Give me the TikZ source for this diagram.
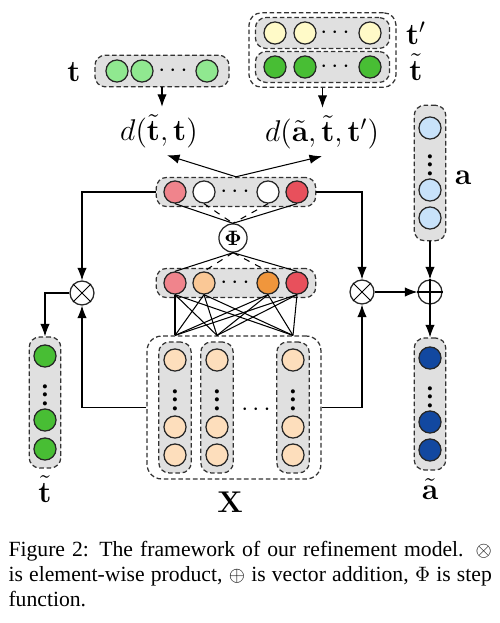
\documentclass[tikz,border=0pt]{standalone}
\usepackage[no-math]{fontspec}
\setmainfont{Liberation Serif}
\usepackage{amsmath}
\usepackage{tikz}
\usetikzlibrary{positioning, fit, calc, arrows.meta, backgrounds}
\definecolor{tlight}{RGB}{144,232,144}
\definecolor{tprime}{RGB}{255,250,200}
\definecolor{tgreen}{RGB}{72,190,52}
\definecolor{alight}{RGB}{200,226,250}
\definecolor{adark}{RGB}{18,72,160}
\definecolor{upink}{RGB}{240,132,140}
\definecolor{ured}{RGB}{232,80,92}
\definecolor{lorange}{RGB}{250,200,150}
\definecolor{dorange}{RGB}{240,150,60}
\definecolor{peach}{RGB}{253,222,188}

\begin{document}
\begin{tikzpicture}[x=0.48pt, y=-0.48pt, line width=0.5pt, >={Latex[length=6pt,width=4.5pt]}]
	\tikzstyle{unit}=[circle, draw=black!85, line width=0.6pt, minimum size=10.6pt, inner sep=0pt]
	\tikzstyle{grp}=[draw=black!80, line width=0.6pt, dash pattern=on 2.2pt off 1.3pt, rounded corners=5pt, fill=black!12, inner sep=0pt]
	\tikzstyle{outergrp}=[grp, fill=none, rounded corners=7pt]
	\tikzstyle{op}=[circle, draw=black!85, line width=0.6pt, fill=white, minimum size=11.5pt, inner sep=0pt]
	\tikzstyle{lbl}=[font=\Large]
	\tikzstyle{dots}=[inner sep=0pt, font=\large\bfseries]
	\useasboundingbox (0,0) rectangle (500,623);

	% t on top
	\foreach \i/\x in {1/117,2/142,3/207} \node[unit, fill=tlight] (t\i) at (\x,71) {};
	\node[dots] (tdots) at (175,71) {$\cdots$};
	\node[lbl] (tlab) at (74,72) {$\mathbf{t}$};

	% t' and t~ on top
	\foreach \i/\x in {1/275,2/305,3/370} {
		\node[unit, fill=tprime] (tp\i) at (\x,33) {};
		\node[unit, fill=tgreen] (tt\i) at (\x,67) {};
	}
	\node[dots] (tpdots) at (337,33) {$\cdots$};
	\node[dots] (ttdots) at (337,67) {$\cdots$};
	\node[lbl] (tplab) at (416,33) {$\mathbf{t}'$};
	\node[lbl] (ttlab) at (416,67) {$\tilde{\mathbf{t}}$};

	% distances
	\node[lbl] (dl) at (159,131) {$d(\tilde{\mathbf{t}},\mathbf{t})$};
	\node[lbl] (dr) at (322,132) {$d(\tilde{\mathbf{a}},\tilde{\mathbf{t}},\mathbf{t}')$};

	% a
	\foreach \i/\y in {1/128,2/190,3/218} \node[unit, fill=alight] (a\i) at (430,\y) {};
	\node[dots] (adots) at (430,159) {$\vdots$};
	\node[lbl] (alab) at (463,178) {$\mathbf{a}$};

	% layers and step function
	\node[unit, fill=upink] (u1) at (175,192) {};
	\node[unit, fill=white] (u2) at (204,192) {};
	\node[dots] (udots) at (237,192) {$\cdots$};
	\node[unit, fill=white] (u3) at (268,192) {};
	\node[unit, fill=ured] (u4) at (297,192) {};
	\node[op, minimum size=13.5pt] (phi) at (233,238) {$\mathbf{\Phi}$};
	\node[unit, fill=upink] (l1) at (175,283) {};
	\node[unit, fill=lorange] (l2) at (204,283) {};
	\node[dots] (ldots) at (237,283) {$\cdots$};
	\node[unit, fill=dorange] (l3) at (268,283) {};
	\node[unit, fill=ured] (l4) at (297,283) {};

	% X
	\foreach \col/\x in {1/175,2/217,3/293} {
		\node[unit, fill=peach] (x\col1) at (\x,360) {};
		\node[dots] (x\col dots) at (\x,394) {$\vdots$};
		\node[unit, fill=peach] (x\col2) at (\x,427) {};
		\node[unit, fill=peach] (x\col3) at (\x,455) {};
	}
	\node[dots] (xdots) at (258,410) {$\cdots$};
	\node[lbl] (xlab) at (230,502) {$\mathbf{X}$};

	% t~ and a~ at the bottom
	\foreach \i/\y in {1/356,2/420,3/449} \node[unit, fill=tgreen] (tl\i) at (45,\y) {};
	\node[dots] (tldots) at (45,389) {$\vdots$};
	\node[lbl] (tllab) at (45,489) {$\tilde{\mathbf{t}}$};
	\foreach \i/\y in {1/358,2/422,3/450} \node[unit, fill=adark] (at\i) at (430,\y) {};
	\node[dots] (atdots) at (430,391) {$\vdots$};
	\node[lbl] (atlab) at (430,489) {$\tilde{\mathbf{a}}$};

	% operators
	\node[op] (ml) at (82,293) {};
	\node[op] (mr) at (362,292) {};
	\node[op] (pl) at (430,292) {};
	\draw (ml.north west) -- (ml.south east) (ml.north east) -- (ml.south west);
	\draw (mr.north west) -- (mr.south east) (mr.north east) -- (mr.south west);
	\draw (pl.north) -- (pl.south) (pl.west) -- (pl.east);

	% boxes
	\begin{scope}[on background layer]
		\node[grp, fit=(t1)(t3), inner xsep=5pt, inner ysep=2pt] (tbox) {};
		\node[grp, fit=(tp1)(tp3), inner xsep=3.8pt, inner ysep=1.8pt] (tpbox) {};
		\node[grp, fit=(tt1)(tt3), inner xsep=3.8pt, inner ysep=1.8pt] (ttbox) {};
		\node[outergrp, fit=(tpbox)(ttbox), inner xsep=2.8pt, inner ysep=2pt, rounded corners=6pt] (tout) {};
		\node[grp, fit=(a1)(a3), inner xsep=2pt, inner ysep=5.3pt] (abox) {};
		\node[grp, fit=(u1)(u4), inner xsep=3.4pt, inner ysep=1.4pt] (ubox) {};
		\node[grp, fit=(l1)(l4), inner xsep=3.4pt, inner ysep=1.4pt] (lbox) {};
		\foreach \col in {1,2,3}
			\node[grp, fit=(x\col1)(x\col3), inner xsep=2.2pt, inner ysep=3pt] (xc\col) {};
		\node[outergrp, fit=(xc1)(xc3), inner xsep=5.3pt, inner ysep=2.6pt] (xbox) {};
		\node[grp, fit=(tl1)(tl3), inner xsep=2pt, inner ysep=3.5pt] (tlbox) {};
		\node[grp, fit=(at1)(at3), inner xsep=2pt, inner ysep=4pt] (atbox) {};
	\end{scope}

	% connectors
	\draw[->] (tbox.south) -- (tbox.south |- dl.north);
	\draw[->] (tout.south) -- (tout.south |- dr.north);
	\draw[->] (ubox.north) -- ($(dl.south)+(8,0)$);
	\draw[->] (ubox.north) -- (dr.south);
	\draw (u1.south) -- (phi.north);
	\draw (u4.south) -- (phi.north);
	\draw[dashed] (u2.south) -- (phi.north);
	\draw[dashed] (u3.south) -- (phi.north);
	\draw (phi.south) -- (l1.north);
	\draw (phi.south) -- (l4.north);
	\draw[dashed] (phi.south) -- (l2.north);
	\draw[dashed] (phi.south) -- (l3.north);
	\foreach \i in {1,...,4}
		\foreach \col in {1,2,3}
			\draw (l\i.south) -- (x\col1 |- xbox.north);
	\draw[->] (ubox.west) -| (ml.north);
	\draw[->] (xbox.west) -| (ml.south);
	\draw[->] (ml.west) -| (tlbox.north);
	\draw[->] (ubox.east) -| (mr.north);
	\draw[->] (xbox.east) -| (mr.south);
	\draw[->] (mr.east) -- (pl.west);
	\draw[->] (abox.south) -- (pl.north);
	\draw[->] (pl.south) -- (atbox.north);

	% caption
	\node[anchor=north west, inner sep=0pt, text width=232pt, align=justify, font=\fontsize{10.4}{12}\selectfont] (caption) at (8,541)
		{Figure 2: The framework of our refinement model. $\otimes$\linebreak is element-wise product, $\oplus$ is vector addition, $\Phi$ is step\linebreak function.};
\end{tikzpicture}
\end{document}
